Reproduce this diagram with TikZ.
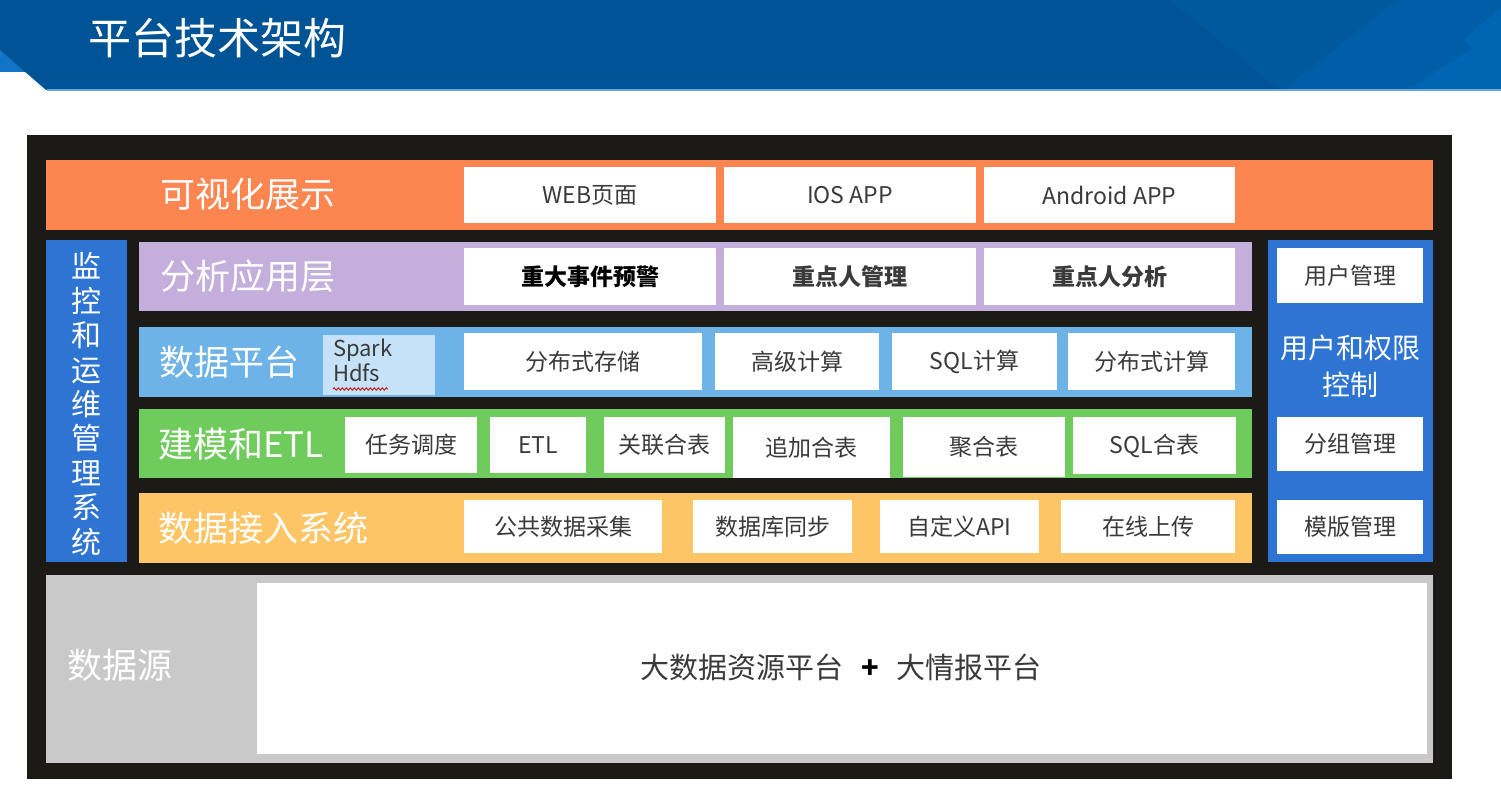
\documentclass[tikz,border=0pt]{standalone}
\usepackage{fontspec}
\setmainfont{Noto Sans CJK SC}
\usetikzlibrary{decorations.pathmorphing}
\definecolor{hdrblue}{HTML}{005496}
\definecolor{hdrmid}{HTML}{00589D}
\definecolor{hdrlight}{HTML}{005EA7}
\definecolor{hdrlighter}{HTML}{0065B2}
\definecolor{hdrstrip}{HTML}{1274C4}
\definecolor{hdrline}{HTML}{6AA6DA}
\definecolor{framebk}{HTML}{1C1A17}
\definecolor{corange}{HTML}{FC8550}
\definecolor{cpurple}{HTML}{C4AEDB}
\definecolor{csky}{HTML}{6DB3E8}
\definecolor{cspark}{HTML}{C6E2F8}
\definecolor{cgreen}{HTML}{6FCB5B}
\definecolor{cyellow}{HTML}{FDC565}
\definecolor{cblue}{HTML}{2E74D2}
\definecolor{cgray}{HTML}{C9C9C9}
\definecolor{txtgray}{HTML}{3A3A3A}
\newcommand\bx[7]{\node[#6, minimum width={(#4)-(#2)}, minimum height={(#5)-(#3)}] (#1) at ({((#2)+(#4))/2},{((#3)+(#5))/2}) {#7};}
\tikzset{
  bar/.style={inner sep=0pt, outer sep=0pt, fill=#1},
  wbox/.style={inner sep=0pt, outer sep=0pt, fill=white, text=txtgray, font=\fontsize{23}{26}\selectfont},
  wboxb/.style={wbox, font=\fontsize{23}{26}\selectfont\bfseries},
  lbl/.style={anchor=west, inner sep=0pt, text=white, font=\fontsize{35}{40}\selectfont},
}
\begin{document}
\begin{tikzpicture}[x=1pt, y=-1pt]
\useasboundingbox (0,0) rectangle (1501,809);
\fill[white] (0,0) rectangle (1501,809);
% header
\fill[hdrblue] (0,0) rectangle (1501,90);
\fill[hdrstrip] (0,50) -- (0,72) -- (25,72) -- cycle;
\fill[white] (0,72) -- (0,91) -- (47,91) -- (25,72) -- cycle;
\fill[hdrmid] (1170,0) -- (1501,0) -- (1501,90) -- (1280,90) -- cycle;
\fill[hdrlight] (1283,90) -- (1397,0) -- (1501,0) -- (1501,90) -- cycle;
\fill[hdrlighter] (1407,90) -- (1501,30) -- (1501,90) -- cycle;
\fill[hdrlighter] (1463,40) -- (1501,8) -- (1501,72) -- cycle;
\draw[hdrline, line width=1.5pt] (47,90) -- (1501,90);
\node[anchor=west, inner sep=0pt, text=white, font=\fontsize{43}{46}\selectfont] (title) at (88,38) {平台技术架构};
% frame
\fill[framebk] (27,135) rectangle (1452,779);
% top layer
\bx{vis}{46}{160}{1433}{230}{bar=corange}{}
\node[lbl] (vislbl) at (160,194) {可视化展示};
\bx{web}{464}{167}{716}{223}{wbox}{WEB页面}
\bx{ios}{724}{167}{976}{223}{wbox}{IOS APP}
\bx{android}{984}{167}{1235}{223}{wbox}{Android APP}
% left vertical
\bx{mon}{46}{240}{127}{562}{bar=cblue}{}
\node[align=center, inner sep=0pt, text=white, font=\fontsize{30}{34.4}\selectfont] (monlbl) at (86.5,404) {监\\控\\和\\运\\维\\管\\理\\系\\统};
% right vertical
\bx{auth}{1268}{240}{1433}{562}{bar=cblue}{}
\bx{usr}{1277}{248}{1423}{303}{wbox}{用户管理}
\node[align=center, inner sep=0pt, text=white, font=\fontsize{28}{37}\selectfont] (authlbl) at (1350,366) {用户和权限\\控制};
\bx{grp}{1277}{417}{1423}{471}{wbox}{分组管理}
\bx{tpl}{1277}{500}{1423}{554}{wbox}{模版管理}
% analysis layer
\bx{ana}{139}{242}{1252}{311}{bar=cpurple}{}
\node[lbl] (analbl) at (160,276) {分析应用层};
\bx{evt}{464}{248}{716}{305}{wboxb, text=black}{重大事件预警}
\bx{kpm}{724}{248}{976}{305}{wboxb}{重点人管理}
\bx{kpa}{984}{248}{1235}{305}{wboxb}{重点人分析}
% data platform
\bx{dp}{139}{327}{1252}{397}{bar=csky}{}
\node[lbl] (dplbl) at (159,362) {数据平台};
\bx{spark}{323}{335}{435}{395}{bar=cspark}{}
\node[anchor=north west, align=left, inner sep=0pt, text=txtgray, font=\fontsize{22}{25}\selectfont] (sparklbl) at (333,339) {Spark\\Hdfs};
\draw[red!80!black, line width=0.8pt, decorate, decoration={snake, amplitude=1.2pt, segment length=4pt}] (333,389) -- (388,389);
\bx{dst}{464}{333}{702}{390}{wbox}{分布式存储}
\bx{adv}{715}{333}{879}{390}{wbox}{高级计算}
\bx{sqlc}{892}{333}{1057}{390}{wbox}{SQL计算}
\bx{dcp}{1068}{333}{1235}{390}{wbox}{分布式计算}
% modeling ETL
\bx{etlbar}{139}{409}{1252}{478}{bar=cgreen}{}
\node[lbl] (etllbl) at (158,444) {建模和ETL};
\bx{sched}{345}{417}{477}{473}{wbox}{任务调度}
\bx{etl}{490}{417}{586}{473}{wbox}{ETL}
\bx{join}{604}{417}{725}{473}{wbox}{关联合表}
\bx{app}{733}{417}{890}{478}{wbox}{追加合表}
\bx{agg}{903}{417}{1065}{477}{wbox}{聚合表}
\bx{sqlj}{1073}{417}{1236}{474}{wbox}{SQL合表}
% ingest
\bx{ing}{139}{493}{1252}{563}{bar=cyellow}{}
\node[lbl] (inglbl) at (158,528) {数据接入系统};
\bx{pub}{464}{500}{662}{553}{wbox}{公共数据采集}
\bx{dbs}{693}{500}{852}{553}{wbox}{数据库同步}
\bx{api}{880}{500}{1039}{553}{wbox}{自定义API}
\bx{upl}{1061}{500}{1235}{553}{wbox}{在线上传}
% data source
\bx{src}{46}{575}{1433}{763}{bar=cgray}{}
\node[lbl] (srclbl) at (67,665) {数据源};
\bx{srcbox}{257}{583}{1427}{754}{bar=white}{}
\node[inner sep=0pt, text=txtgray, font=\fontsize{29}{32}\selectfont] (srctxt) at (841,667) {大数据资源平台\hspace{0.6em}{\color{black}\bfseries +}\hspace{0.6em}大情报平台};
\end{tikzpicture}
\end{document}
